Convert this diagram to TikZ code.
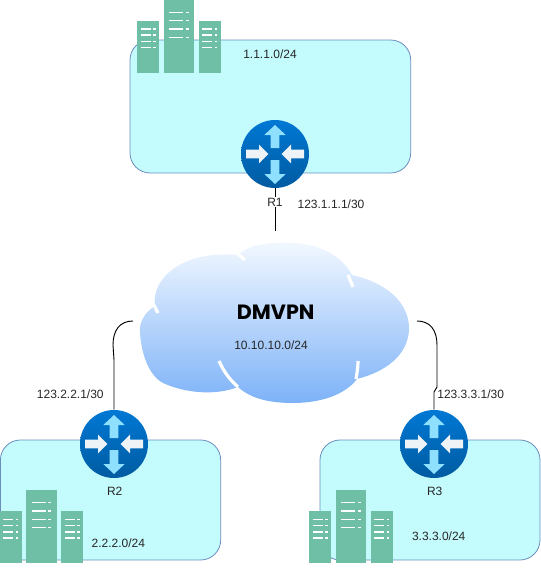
\documentclass[tikz,border=0pt]{standalone}
\usepackage{fontspec}
\setmainfont{Liberation Sans}
\newfontfamily\cloudfont{Poppins}
\definecolor{netfill}{HTML}{C4FBFD}
\definecolor{netline}{HTML}{6C8EBF}
\definecolor{srv}{HTML}{6FBFA6}
\definecolor{rtop}{HTML}{0078D4}
\definecolor{rbot}{HTML}{005BA1}
\definecolor{arrv}{HTML}{8FE0FF}
\definecolor{arrh}{HTML}{EEF3F8}
\definecolor{cloudtop}{HTML}{F2F8FF}
\definecolor{cloudbot}{HTML}{7DB2F8}
\tikzset{
  net/.style={draw=netline,fill=netfill,line width=0.6pt,rounded corners=15pt},
  router/.style={circle,inner sep=0pt,minimum size=51pt,top color=rtop,bottom color=rbot,draw=none},
  lbl/.style={font=\fontsize{9}{11}\selectfont,text=black!85,inner sep=1pt},
  link/.style={draw=black,line width=0.7pt},
  cloudgap/.style={draw=white,line width=2.4pt},
  srvline/.style={draw=white,line width=0.8pt},
  servers/.pic={
    \fill[srv] (0,21) rectangle (22,73);
    \fill[srv] (26.7,0) rectangle (57,73);
    \fill[srv] (61.4,21) rectangle (83.4,73);
    \foreach \x in {0,61.4}{
      \foreach \y in {29,35,41.7,47.7}{
        \draw[srvline] (\x+3.7,\y) -- (\x+13.5,\y) (\x+16,\y) -- (\x+18.7,\y);
      }
    }
    \foreach \y in {12.3,20.7,29,37.3}{
      \draw[srvline] (32,\y) -- (46,\y) (48.7,\y) -- (51.7,\y);
    }
  },
  routerarrows/.pic={
    \fill[arrv] (0,-29) -- (10.7,-19) -- (4.3,-19) -- (4.3,-6) -- (-4.3,-6) -- (-4.3,-19) -- (-10.7,-19) -- cycle;
    \fill[arrv] (0,30) -- (10.7,20) -- (4.3,20) -- (4.3,6) -- (-4.3,6) -- (-4.3,20) -- (-10.7,20) -- cycle;
    \fill[arrh] (-6.7,0) -- (-16,-9.3) -- (-16,-4.3) -- (-29,-4.3) -- (-29,4.3) -- (-16,4.3) -- (-16,9.3) -- cycle;
    \fill[arrh] (6.7,0) -- (16,-9.3) -- (16,-4.3) -- (29,-4.3) -- (29,4.3) -- (16,4.3) -- (16,9.3) -- cycle;
  }
}
\begin{document}
\begin{tikzpicture}[x=0.75pt,y=-0.75pt]
\useasboundingbox (0,0) rectangle (541,571);
% networks
\draw[net] (130,40) rectangle (410.7,173);
\draw[net] (0.4,440) rectangle (220.7,560);
\draw[net] (320,440) rectangle (540,560);
% servers
\pic at (137.3,0) {servers};
\pic at (-0.3,490.3) {servers};
\pic at (309.3,490.3) {servers};
% cloud
\shade[top color=cloudtop,bottom color=cloudbot]
  (140,332) .. controls (139,322) and (145,312) .. (155,306)
  .. controls (151,280) and (180,250) .. (238,255)
  .. controls (250,243) and (275,242) .. (293,243)
  .. controls (320,244) and (342,256) .. (352,275)
  .. controls (385,282) and (409,302) .. (409,328)
  .. controls (409,355) and (385,372) .. (357,379)
  .. controls (345,395) and (320,403) .. (293,403)
  .. controls (268,403) and (250,398) .. (238,387)
  .. controls (215,396) and (185,393) .. (163,383)
  .. controls (148,375) and (141,352) .. (140,332) -- cycle;
\draw[cloudgap] (219,361) .. controls (224,372) and (230,380) .. (238,387);
\draw[cloudgap] (358,361) .. controls (358,368) and (357,373) .. (356,379);
\draw[cloudgap] (154,305) -- (158,313);
\draw[cloudgap] (238,254) -- (245,260);
\draw[cloudgap] (348,275) -- (353,287);
% routers
\coordinate (r1end) at (275,231);
\coordinate (r2end) at (133,321);
\coordinate (r3end) at (417,321);
\node[router] (r1) at (275,154) {};
\node[router] (r2) at (114,444) {};
\node[router] (r3) at (434,444) {};
\draw[link] (r1) -- (r1end);
\draw[link] (r2) -- (114,360) -- (113,345) .. controls (113,330) and (120,321) .. (r2end);
\draw[link] (r3) -- (434,392) -- (437,387) -- (437,345) .. controls (437,330) and (430,321) .. (r3end);
\pic at (r1) {routerarrows};
\pic at (r2) {routerarrows};
\pic at (r3) {routerarrows};
% labels
\node[lbl] (a1) at (270,54) {1.1.1.0/24};
\node[lbl,fill=white] (n1) at (275,202) {R1};
\node[lbl] (i1) at (331,204.7) {123.1.1.1/30};
\node[lbl] (ov) at (271,345.7) {10.10.10.0/24};
\node[inner sep=0pt,font=\cloudfont\fontsize{15.5}{18}\selectfont\bfseries] (cl) at (275.7,312) {DMVPN};
\node[lbl] (i2) at (70.3,394.7) {123.2.2.1/30};
\node[lbl] (n2) at (114.7,491.7) {R2};
\node[lbl] (a2) at (118.3,543.7) {2.2.2.0/24};
\node[lbl] (i3) at (470.7,394.7) {123.3.3.1/30};
\node[lbl] (n3) at (434.7,491.7) {R3};
\node[lbl] (a3) at (438.7,536.7) {3.3.3.0/24};
\end{tikzpicture}
\end{document}
